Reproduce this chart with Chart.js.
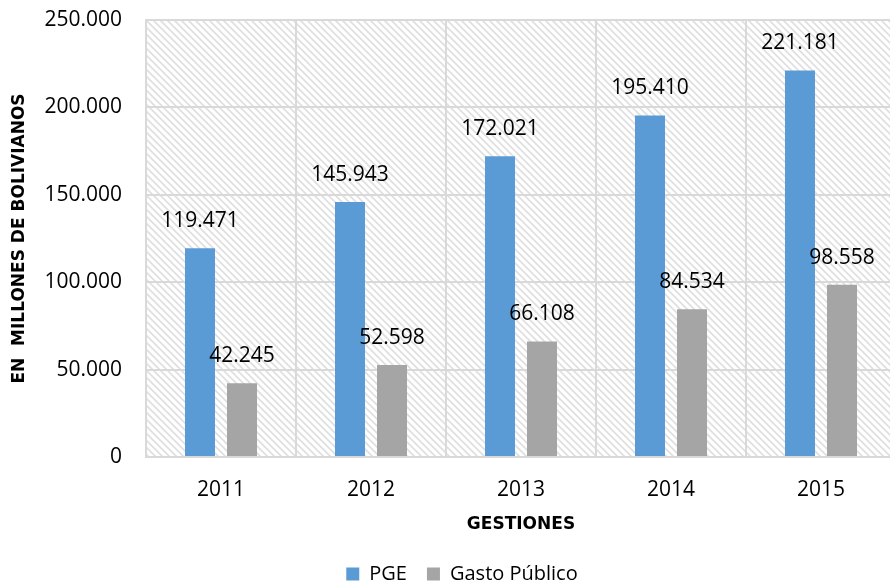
<!DOCTYPE html>
<html>
<head>
<meta charset="utf-8">
<script src="https://cdn.jsdelivr.net/npm/chart.js@4/dist/chart.umd.min.js"></script>
<style>
  html, body { margin: 0; padding: 0; background: #fff; overflow: hidden; }
  #wrap { width: 906px; height: 585px; }
</style>
</head>
<body>
<div id="wrap"><canvas id="chart" width="906" height="585"></canvas></div>
<script>
const years = ['2011', '2012', '2013', '2014', '2015'];
const pge = [119471, 145943, 172021, 195410, 221181];
const gasto = [42245, 52598, 66108, 84534, 98558];
const seriesNames = ['PGE', 'Gasto Público'];

const FONT = "'Open Sans', sans-serif";
const BOLD = "'DejaVu Sans', sans-serif";

function fmt(v) {
  return String(Math.round(v)).replace(/\B(?=(\d{3})+(?!\d))/g, '.');
}

// diagonal hatch used as plot background
function makeHatch() {
  const s = 7;
  const c = document.createElement('canvas');
  c.width = s; c.height = s;
  const g = c.getContext('2d');
  g.fillStyle = '#fff';
  g.fillRect(0, 0, s, s);
  g.strokeStyle = '#e0e0e0';
  g.lineWidth = 1.8;
  g.beginPath();
  g.moveTo(-1, -1); g.lineTo(s + 1, s + 1);
  g.moveTo(-1, s - 1); g.lineTo(1, s + 1);
  g.moveTo(s - 1, -1); g.lineTo(s + 1, 1);
  g.stroke();
  return c;
}

const hatchBg = {
  id: 'hatchBg',
  beforeDraw(chart) {
    const { ctx, chartArea: a } = chart;
    ctx.save();
    ctx.fillStyle = ctx.createPattern(makeHatch(), 'repeat');
    ctx.fillRect(a.left, a.top, a.right - a.left, a.bottom - a.top);
    ctx.restore();
  }
};

const valueLabels = {
  id: 'valueLabels',
  afterDatasetsDraw(chart) {
    const ctx = chart.ctx;
    ctx.save();
    ctx.font = '21px ' + FONT;
    ctx.fillStyle = '#000';
    ctx.textAlign = 'center';
    ctx.textBaseline = 'middle';
    chart.data.datasets.forEach((ds, i) => {
      chart.getDatasetMeta(i).data.forEach((bar, j) => {
        ctx.fillText(fmt(ds.data[j]), bar.x, bar.y - 27);
      });
    });
    ctx.restore();
  }
};

new Chart(document.getElementById('chart'), {
  type: 'bar',
  data: {
    labels: years,
    datasets: [
      { label: seriesNames[0], data: pge, backgroundColor: '#5b9bd5', categoryPercentage: 0.56, barPercentage: 0.714 },
      { label: seriesNames[1], data: gasto, backgroundColor: '#a5a5a5', categoryPercentage: 0.56, barPercentage: 0.714 }
    ]
  },
  options: {
    responsive: false,
    animation: false,
    layout: { padding: { top: 20, left: 28, right: 10, bottom: -9 } },
    plugins: {
      legend: {
        position: 'bottom',
        labels: {
          font: { family: FONT, size: 20 },
          color: '#000',
          boxWidth: 13,
          boxHeight: 13,
          padding: 20
        }
      },
      tooltip: { enabled: false }
    },
    scales: {
      x: {
        grid: { color: '#d9d9d9', lineWidth: 2, drawTicks: false, offset: true },
        border: { color: '#d9d9d9', width: 2 },
        ticks: { font: { family: FONT, size: 21 }, color: '#000', padding: 20 },
        title: { display: true, text: 'GESTIONES', font: { family: BOLD, size: 17, weight: 'bold' }, color: '#000', padding: { top: 10, bottom: 9 } },
        afterFit(scale) { scale.height = 87; }
      },
      y: {
        min: 0,
        max: 250000,
        grid: { color: '#d9d9d9', lineWidth: 2, drawTicks: false },
        border: { color: '#d9d9d9', width: 2 },
        ticks: {
          stepSize: 50000,
          font: { family: FONT, size: 21 },
          color: '#000',
          padding: 24,
          callback: v => fmt(v)
        },
        title: { display: true, text: 'EN  MILLONES DE BOLIVIANOS', font: { family: BOLD, size: 17, weight: 'bold' }, color: '#000', padding: { top: -19, bottom: 0 } },
        afterFit(scale) { scale.width = 118; scale.paddingTop = 0; scale.paddingBottom = 0; }
      }
    }
  },
  plugins: [hatchBg, valueLabels]
});
</script>
</body>
</html>
